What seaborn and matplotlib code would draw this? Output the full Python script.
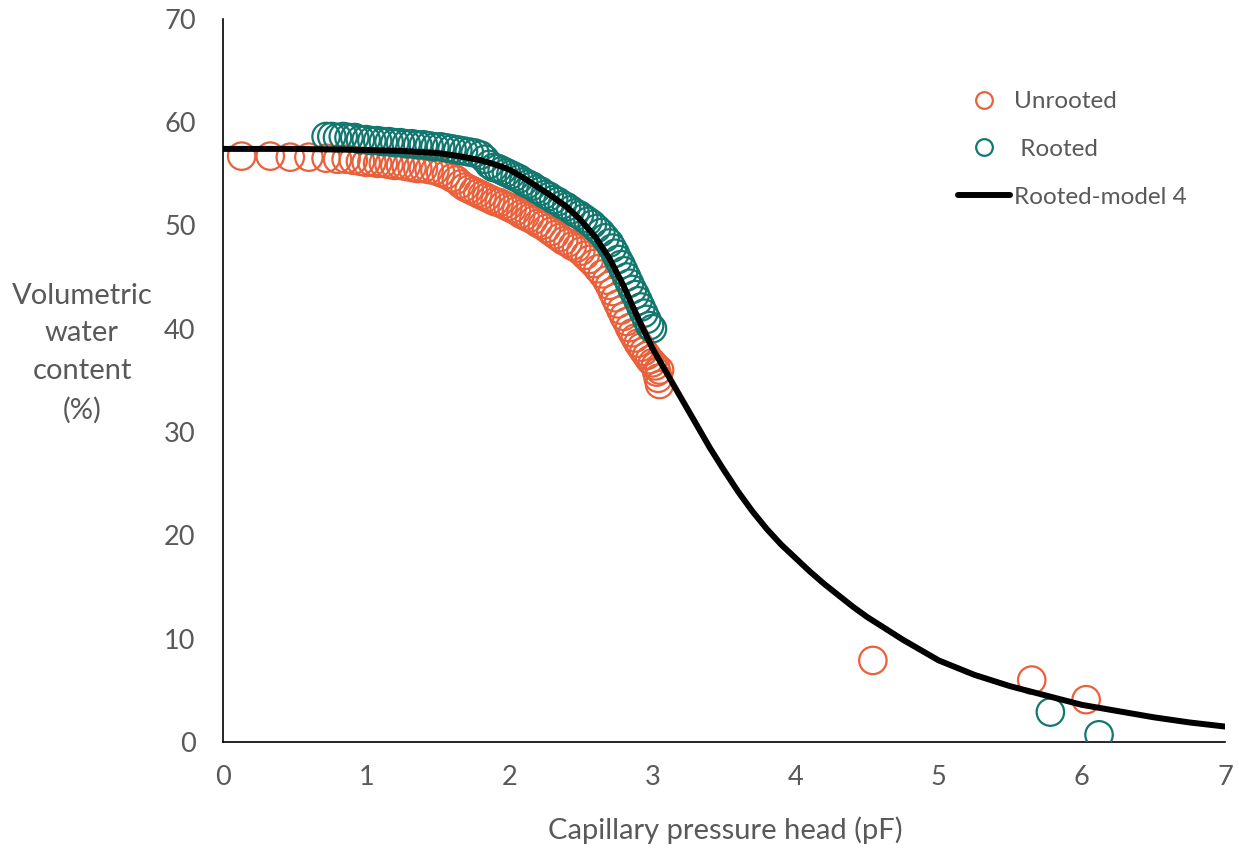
import numpy as np
import pandas as pd
import matplotlib
matplotlib.use("Agg")
import matplotlib.pyplot as plt
import seaborn as sns
from matplotlib.lines import Line2D

# ---------------- data ----------------
unrooted_x = [0.13, 0.33, 0.47, 0.60, 0.72, 0.80, 0.86, 0.91, 0.96, 1.00, 1.04, 1.08, 1.12, 1.16,
              1.20, 1.24, 1.28, 1.32, 1.36, 1.40, 1.44, 1.48, 1.52, 1.56, 1.60, 1.63, 1.66, 1.69,
              1.72, 1.75, 1.78, 1.81, 1.84, 1.87, 1.90, 1.93, 1.96, 1.99, 2.02, 2.05, 2.08, 2.11,
              2.14, 2.17, 2.20, 2.23, 2.26, 2.29, 2.32, 2.35, 2.38, 2.41, 2.44, 2.47, 2.50, 2.53,
              2.56, 2.59, 2.62, 2.65, 2.68, 2.70, 2.72, 2.74, 2.76, 2.78, 2.80, 2.82, 2.84, 2.86,
              2.88, 2.90, 2.92, 2.94, 2.96, 2.98, 3.00, 3.02, 3.03, 3.04, 3.05, 3.05,
              4.54, 5.65, 6.03]
unrooted_y = [56.7, 56.7, 56.6, 56.6, 56.5, 56.4, 56.4, 56.3, 56.2, 56.1, 56.1, 56.0, 56.0, 55.9,
              55.8, 55.8, 55.7, 55.6, 55.5, 55.5, 55.4, 55.3, 55.1, 54.9, 54.6, 54.4, 54.0, 53.7,
              53.5, 53.3, 53.1, 52.9, 52.7, 52.5, 52.3, 52.2, 52.0, 51.8, 51.6, 51.4, 51.1, 50.9,
              50.7, 50.5, 50.2, 50.0, 49.7, 49.4, 49.1, 48.8, 48.5, 48.3, 48.0, 47.8, 47.5, 47.1,
              46.7, 46.3, 45.8, 45.3, 44.7, 44.2, 43.6, 43.0, 42.4, 41.8, 41.2, 40.7, 40.1, 39.6,
              39.1, 38.6, 38.2, 37.8, 37.4, 37.0, 36.7, 36.4, 35.8, 35.2, 34.6, 36.0,
              7.9, 6.0, 4.1]

rooted_x = [0.72, 0.76, 0.80, 0.84, 0.88, 0.92, 0.96, 1.00, 1.04, 1.08, 1.12, 1.16, 1.20, 1.24,
            1.28, 1.32, 1.36, 1.40, 1.44, 1.48, 1.52, 1.56, 1.60, 1.64, 1.68, 1.72, 1.76, 1.80,
            1.83, 1.86, 1.89, 1.92, 1.95, 1.98, 2.01, 2.04, 2.07, 2.10, 2.13, 2.16, 2.19, 2.22,
            2.25, 2.28, 2.31, 2.34, 2.37, 2.40, 2.43, 2.46, 2.49, 2.52, 2.55, 2.58, 2.61, 2.64,
            2.67, 2.70, 2.72, 2.74, 2.76, 2.78, 2.80, 2.82, 2.84, 2.86, 2.88, 2.90, 2.92, 2.94,
            2.96, 2.98, 3.00, 5.78, 6.12]
rooted_y = [58.6, 58.6, 58.5, 58.6, 58.5, 58.5, 58.3, 58.3, 58.2, 58.2, 58.1, 58.1, 58.0, 58.0,
            57.9, 57.9, 57.8, 57.8, 57.7, 57.6, 57.6, 57.5, 57.4, 57.3, 57.2, 57.1, 57.0, 56.8,
            56.4, 55.9, 55.6, 55.5, 55.3, 55.1, 54.9, 54.7, 54.5, 54.2, 54.0, 53.8, 53.5, 53.3,
            53.0, 52.8, 52.5, 52.3, 52.0, 51.8, 51.5, 51.2, 51.0, 50.7, 50.4, 50.1, 49.7, 49.3,
            48.8, 48.3, 47.8, 47.3, 46.7, 46.2, 45.6, 45.0, 44.4, 43.8, 43.3, 42.7, 42.1, 41.5,
            40.9, 40.3, 40.0, 2.9, 0.7]

model_x = [0.0, 0.5, 1.0, 1.25, 1.5, 1.65, 1.8, 1.9, 2.0, 2.1, 2.2, 2.3, 2.4, 2.5, 2.6, 2.7,
           2.8, 2.9, 3.0, 3.1, 3.2, 3.3, 3.4, 3.5, 3.6, 3.7, 3.8, 3.9, 4.0, 4.1, 4.2, 4.3,
           4.4, 4.5, 4.75, 5.0, 5.25, 5.5, 5.75, 6.0, 6.25, 6.5, 6.75, 7.0]
model_y = [57.4, 57.4, 57.3, 57.2, 57.0, 56.7, 56.3, 55.9, 55.4, 54.6, 53.7, 52.8, 51.8, 50.5,
           48.9, 46.8, 44.1, 41.0, 38.1, 35.7, 33.3, 30.9, 28.5, 26.3, 24.2, 22.3, 20.6, 19.1,
           17.8, 16.5, 15.3, 14.2, 13.1, 12.1, 9.9, 7.9, 6.5, 5.4, 4.5, 3.6, 3.0, 2.4, 1.9, 1.5]

x_ticks = [0, 1, 2, 3, 4, 5, 6, 7]
y_ticks = [0, 10, 20, 30, 40, 50, 60, 70]

ORANGE = "#E9603A"
TEAL = "#12776F"
GRAY = "#595959"

sns.set_theme(style="white")
plt.rcParams['font.family'] = ['Lato', 'DejaVu Sans']

fig = plt.figure(figsize=(12.39, 8.5), dpi=100)
ax = fig.add_axes([0.18, 0.127, 0.8087, 0.851])

sns.scatterplot(x=unrooted_x, y=unrooted_y, ax=ax, s=390, marker="o",
                facecolor="none", edgecolor=ORANGE, linewidth=1.6, legend=False, zorder=2)
sns.scatterplot(x=rooted_x, y=rooted_y, ax=ax, s=390, marker="o",
                facecolor="none", edgecolor=TEAL, linewidth=1.6, legend=False, zorder=3)
sns.lineplot(x=model_x, y=model_y, ax=ax, color="black", linewidth=4.3, legend=False,
             zorder=4, sort=True, estimator=None)

ax.set_xlim(0, 7)
ax.set_ylim(0, 70)
ax.set_xticks(x_ticks)
ax.set_yticks(y_ticks)
ax.set_xticklabels([str(t) for t in x_ticks])
ax.set_yticklabels([str(t) for t in y_ticks])
for side in ["top", "right"]:
    ax.spines[side].set_visible(False)
for side in ["left", "bottom"]:
    ax.spines[side].set_color("black")
    ax.spines[side].set_linewidth(1.2)
ax.tick_params(axis="both", which="major", direction="out", length=6.7, width=1.2,
               color="black", labelsize=19.5, labelcolor=GRAY)
ax.tick_params(axis="y", pad=13)
ax.tick_params(axis="x", pad=10)
ax.grid(False)
ax.set_xlabel("")
ax.set_ylabel("")

fig.text(725 / 1239, 1 - 830 / 850, "Capillary pressure head (pF)", ha="center", va="center",
         fontsize=21, color=GRAY)
fig.text(82 / 1239, 1 - 353 / 850, "Volumetric\nwater\ncontent\n(%)", ha="center", va="center",
         fontsize=21, color=GRAY, linespacing=1.56)

handles = [
    Line2D([], [], marker="o", linestyle="none", markersize=12, markerfacecolor="none",
           markeredgecolor=ORANGE, markeredgewidth=1.6),
    Line2D([], [], marker="o", linestyle="none", markersize=12, markerfacecolor="none",
           markeredgecolor=TEAL, markeredgewidth=1.6),
    Line2D([], [], color="black", linewidth=4.3),
]
labels = ["Unrooted", " Rooted", "Rooted-model 4"]
leg = fig.legend(handles, labels, loc="upper left", bbox_to_anchor=(958 / 1239, 1 - 91 / 850),
                 frameon=False, fontsize=17.5, labelcolor=GRAY, handlelength=2.15,
                 handletextpad=0.15, labelspacing=1.1, borderpad=0, borderaxespad=0)

fig.savefig("out.png", dpi=100)
